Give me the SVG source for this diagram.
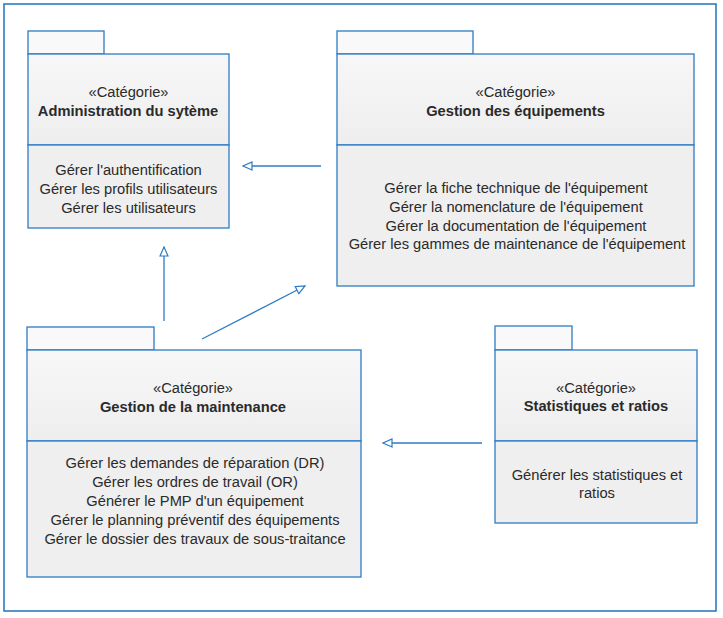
<svg xmlns="http://www.w3.org/2000/svg" width="723" height="618" viewBox="0 0 723 618">
  <defs>
    <linearGradient id="hdr" x1="0" y1="0" x2="0" y2="1">
      <stop offset="0" stop-color="#F7F7F7"/>
      <stop offset="1" stop-color="#EEEEEE"/>
    </linearGradient>
    <marker id="open" markerUnits="userSpaceOnUse" markerWidth="12" markerHeight="12" refX="10" refY="5" orient="auto" viewBox="0 0 12 10">
      <path d="M1,1 L10,5 L1,9 Z" fill="#FFFFFF" stroke="#2E7BC4" stroke-width="1.2"/>
    </marker>
  </defs>
  <style>
    .frame { fill: #FFFFFF; stroke: #2E7BC4; stroke-width: 1.6; }
    .tab { fill: #F9F9F9; stroke: #2E7BC4; stroke-width: 1.3; }
    .hdr { fill: url(#hdr); stroke: #2E7BC4; stroke-width: 1.3; }
    .bdy { fill: #EFEFEF; stroke: #2E7BC4; stroke-width: 1.3; }
    text { font-family: "Liberation Sans", Arial, sans-serif; font-size: 14.7px; fill: #2A2A2A; text-anchor: middle; }
    .b { font-weight: bold; }
    .conn { stroke: #2E7BC4; stroke-width: 1.3; fill: none; marker-end: url(#open); }
  </style>
  <rect class="frame" x="4" y="4" width="712" height="607"/>

  <g id="admin">
    <rect class="tab" x="28" y="31" width="76" height="23"/>
    <rect class="hdr" x="28" y="54" width="201" height="91"/>
    <rect class="bdy" x="28" y="145" width="201" height="83"/>
    <text x="128.5" y="97">«Catégorie»</text>
    <text class="b" x="128" y="116">Administration du sytème</text>
    <text x="128.5" y="175">Gérer l'authentification</text>
    <text x="128.5" y="194">Gérer les profils utilisateurs</text>
    <text x="128.5" y="213">Gérer les utilisateurs</text>
  </g>

  <g id="equipements">
    <rect class="tab" x="337" y="31" width="136" height="23"/>
    <rect class="hdr" x="337" y="54" width="357" height="91"/>
    <rect class="bdy" x="337" y="145" width="357" height="141"/>
    <text x="515.5" y="97">«Catégorie»</text>
    <text class="b" x="515.5" y="116">Gestion des équipements</text>
    <text x="516" y="193">Gérer la fiche technique de l'équipement</text>
    <text x="516" y="212">Gérer la nomenclature de l'équipement</text>
    <text x="516" y="231">Gérer la documentation de l'équipement</text>
    <text x="517" y="249">Gérer les gammes de maintenance de l'équipement</text>
  </g>

  <g id="maintenance">
    <rect class="tab" x="27" y="327" width="127" height="23"/>
    <rect class="hdr" x="27" y="350" width="334" height="91"/>
    <rect class="bdy" x="27" y="441" width="334" height="136"/>
    <text x="193" y="393">«Catégorie»</text>
    <text class="b" x="193" y="412">Gestion de la maintenance</text>
    <text x="195" y="468">Gérer les demandes de réparation (DR)</text>
    <text x="195" y="487">Gérer les ordres de travail (OR)</text>
    <text x="195" y="506">Générer le PMP d'un équipement</text>
    <text x="195" y="525">Gérer le planning préventif des équipements</text>
    <text x="195" y="544">Gérer le dossier des travaux de sous-traitance</text>
  </g>

  <g id="statistiques">
    <rect class="tab" x="495" y="326" width="77" height="24"/>
    <rect class="hdr" x="495" y="350" width="202" height="91"/>
    <rect class="bdy" x="495" y="441" width="202" height="82"/>
    <text x="596" y="393">«Catégorie»</text>
    <text class="b" x="596" y="411">Statistiques et ratios</text>
    <text x="597" y="480">Générer les statistiques et</text>
    <text x="597" y="498">ratios</text>
  </g>

  <g id="connectors">
    <line class="conn" x1="321" y1="166" x2="243" y2="166"/>
    <line class="conn" x1="164" y1="321" x2="164" y2="247"/>
    <line class="conn" x1="202" y1="339" x2="305" y2="286"/>
    <line class="conn" x1="482" y1="443" x2="383" y2="443"/>
  </g>
</svg>
